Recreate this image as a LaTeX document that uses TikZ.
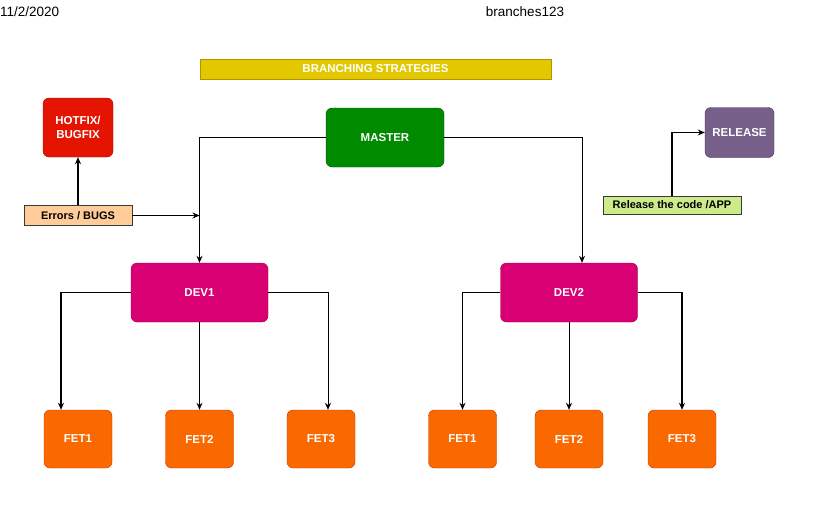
\documentclass[tikz,border=0pt]{standalone}
\usepackage{fontspec}
\setmainfont{Liberation Sans}
\usetikzlibrary{arrows.meta}

\definecolor{barfill}{HTML}{E3C800}
\definecolor{bardraw}{HTML}{B09500}
\definecolor{masterfill}{HTML}{008A00}
\definecolor{masterdraw}{HTML}{005700}
\definecolor{hotfill}{HTML}{E51400}
\definecolor{hotdraw}{HTML}{B20000}
\definecolor{relfill}{HTML}{76608A}
\definecolor{reldraw}{HTML}{432D57}
\definecolor{devfill}{HTML}{D80073}
\definecolor{devdraw}{HTML}{A50040}
\definecolor{fetfill}{HTML}{FA6800}
\definecolor{fetdraw}{HTML}{C73500}
\definecolor{notefill}{HTML}{FFCC99}
\definecolor{tagfill}{HTML}{CDEB8B}
\definecolor{tagdraw}{HTML}{36393D}

\tikzset{
  box/.style={draw, rounded corners=6pt, text=white, font=\fontsize{11.5}{13.5}\selectfont\bfseries, align=center, inner sep=0pt},
  masterbox/.style={box, fill=masterfill, draw=masterdraw, minimum width=118pt, minimum height=59pt},
  devbox/.style={box, fill=devfill, draw=devdraw, minimum width=137pt, minimum height=59pt},
  fetbox/.style={box, fill=fetfill, draw=fetdraw, minimum width=68pt, minimum height=58pt},
  hotbox/.style={box, fill=hotfill, draw=hotdraw, minimum width=70pt, minimum height=59pt},
  relbox/.style={box, fill=relfill, draw=reldraw, minimum width=69pt, minimum height=50pt},
  notebox/.style={draw=tagdraw, text=black, font=\fontsize{11}{13}\selectfont\bfseries, inner sep=0pt},
  link/.style={line width=0.9pt, -{Stealth[length=7pt,width=6pt]}},
  boldlink/.style={link, line width=1.7pt}
}

\begin{document}
\begin{tikzpicture}[x=1pt, y=-1pt]
        \useasboundingbox[fill=white] (0,0) rectangle (825,504);

        % Page header
        \node[anchor=west, inner sep=0pt, font=\fontsize{13.5}{15}\selectfont] (date) at (0,12) {11/2/2020};
        \node[inner sep=0pt, font=\fontsize{13.5}{15}\selectfont] (pagename) at (525,12) {branches123};

        % Title bar
        \node[draw=bardraw, fill=barfill, line width=1pt, text=white, font=\fontsize{11.5}{13.5}\selectfont\bfseries,
              minimum width=351pt, minimum height=20pt, inner sep=0pt] (title) at (375.5,69) {BRANCHING STRATEGIES};

        % Main branches
        \node[masterbox] (master) at (385,137.5) {MASTER};
        \node[devbox] (dev1) at (199.5,292.5) {DEV1};
        \node[devbox] (dev2) at (569,292.5) {DEV2};

        % Hotfix and release
        \node[hotbox] (hotfix) at (78,127.5) {HOTFIX/\\BUGFIX};
        \node[notebox, fill=notefill, minimum width=108pt, minimum height=20pt] (errors) at (78,215.5) {Errors / BUGS};
        \node[relbox] (release) at (739.5,132.5) {RELEASE};
        \node[notebox, fill=tagfill, minimum width=138pt, minimum height=18pt] (relcode) at (672,205) {Release the code /APP};

        % Feature branches
        \node[fetbox] (f11) at (78,439) {FET1};
        \node[fetbox] (f12) at (199.5,439) {FET2};
        \node[fetbox] (f13) at (321,439) {FET3};
        \node[fetbox] (f21) at (462.5,439) {FET1};
        \node[fetbox] (f22) at (569,439) {FET2};
        \node[fetbox] (f23) at (682,439) {FET3};

        % Connectors
        \draw[link] (master.west) -| (dev1.north);
        \draw[link] (master.east) -| ([xshift=13pt]dev2.north);
        \draw[boldlink] (errors) -- (hotfix);
        \draw[link] (errors) -- (errors.east -| dev1.north);
        \draw[boldlink] (relcode.north) |- (release.west);

        \draw[boldlink] (dev1.west) -| ([xshift=-17pt]f11.north);
        \draw[link] (dev1) -- (f12);
        \draw[link] (dev1.east) -| ([xshift=7pt]f13.north);
        \draw[link] (dev2.west) -| (f21.north);
        \draw[link] (dev2) -- (f22);
        \draw[boldlink] (dev2.east) -| (f23.north);
\end{tikzpicture}
\end{document}
